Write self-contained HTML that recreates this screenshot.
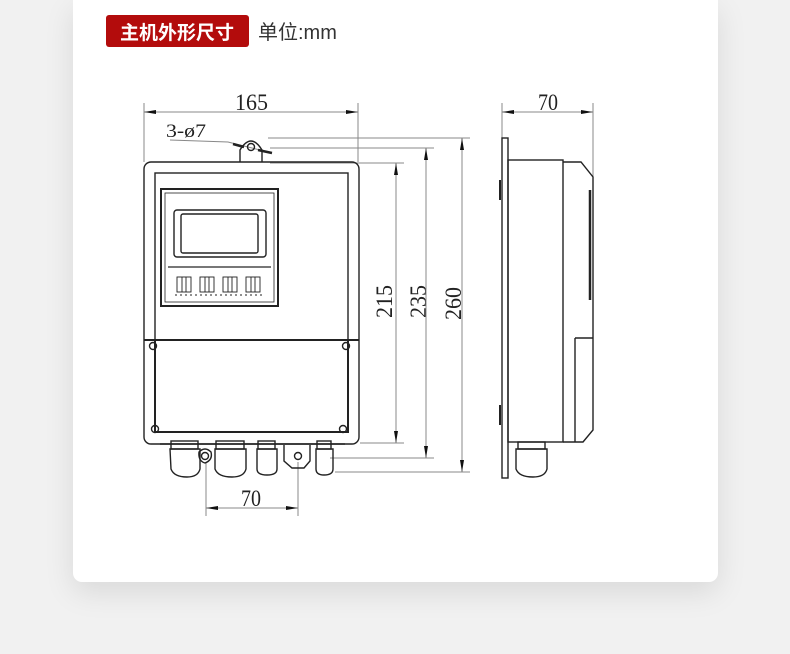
<!DOCTYPE html>
<html><head><meta charset="utf-8"><style>
html,body{margin:0;padding:0;width:790px;height:654px;overflow:hidden;background:#f1f1f1;}
.card{position:absolute;left:73px;top:0;width:645px;height:582px;background:#fff;border-radius:0 0 9px 9px;box-shadow:0 10px 30px rgba(0,0,0,0.10);}
svg{position:absolute;left:0;top:0;}
</style></head><body>
<div class="card"></div>
<svg width="790" height="654" viewBox="0 0 790 654" xmlns="http://www.w3.org/2000/svg">
<rect x="106" y="15" width="143" height="32" rx="3" fill="#b30c0c"/>
<text x="177" y="39" text-anchor="middle" fill="#fff" font-family="Liberation Sans,'Noto Sans CJK SC',sans-serif" font-size="19" font-weight="bold">主机外形尺寸</text>
<text x="258" y="39" fill="#333" font-family="Liberation Sans,'Noto Sans CJK SC',sans-serif" font-size="20">单位:mm</text>

<g font-family="Liberation Serif,serif" font-size="23" fill="#222" lengthAdjust="spacingAndGlyphs">
<text x="235" y="110" textLength="33" lengthAdjust="spacingAndGlyphs">165</text>
<text x="166" y="137" font-size="19" textLength="40" lengthAdjust="spacingAndGlyphs">3-ø7</text>
<text x="241" y="506" textLength="20" lengthAdjust="spacingAndGlyphs">70</text>
<text x="538" y="110" textLength="20" lengthAdjust="spacingAndGlyphs">70</text>
<text transform="translate(392,318) rotate(-90)" textLength="33" lengthAdjust="spacingAndGlyphs">215</text>
<text transform="translate(426,318) rotate(-90)" textLength="33" lengthAdjust="spacingAndGlyphs">235</text>
<text transform="translate(461,320) rotate(-90)" textLength="33" lengthAdjust="spacingAndGlyphs">260</text>
</g>

<g stroke="#888" stroke-width="1" fill="none">
<line x1="144" y1="103" x2="144" y2="162"/><line x1="358" y1="103" x2="358" y2="162"/>
<line x1="144" y1="112" x2="358" y2="112"/>
<line x1="502" y1="103" x2="502" y2="138"/><line x1="593" y1="103" x2="593" y2="178"/>
<line x1="502" y1="112" x2="593" y2="112"/>
<line x1="206" y1="462" x2="206" y2="516"/><line x1="298" y1="462" x2="298" y2="516"/>
<line x1="206" y1="508" x2="298" y2="508"/>
<line x1="268" y1="138" x2="470" y2="138"/><line x1="270" y1="148" x2="434" y2="148"/><line x1="270" y1="163" x2="404" y2="163"/>
<line x1="360" y1="443" x2="404" y2="443"/><line x1="330" y1="458" x2="434" y2="458"/><line x1="335" y1="472" x2="470" y2="472"/>
<line x1="396" y1="163" x2="396" y2="443"/><line x1="426" y1="148" x2="426" y2="458"/><line x1="462" y1="138" x2="462" y2="472"/>
<polyline points="170,140 228,142 268,152"/>
</g>
<g fill="#111">
<polygon points="144,112 156,110 156,114"/><polygon points="358,112 346,110 346,114"/>
<polygon points="502,112 514,110 514,114"/><polygon points="593,112 581,110 581,114"/>
<polygon points="206,508 218,506 218,510"/><polygon points="298,508 286,506 286,510"/>
<polygon points="396,163 394,175 398,175"/><polygon points="396,443 394,431 398,431"/>
<polygon points="426,148 424,160 428,160"/><polygon points="426,458 424,446 428,446"/>
<polygon points="462,138 460,150 464,150"/><polygon points="462,472 460,460 464,460"/>
</g>

<g stroke="#222" stroke-width="1.4" fill="none">
<path d="M240,162 L240,150 Q251,132 262,150 L262,162"/><circle cx="251" cy="147" r="3.5"/>
<line x1="233" y1="144" x2="244" y2="147" stroke-width="2.5"/><line x1="258" y1="150" x2="272" y2="153" stroke-width="2.5"/>
<rect x="144" y="162" width="215" height="282" rx="7"/>
<rect x="155" y="173" width="193" height="167"/>
<rect x="161" y="189" width="117" height="117" stroke-width="2"/>
<rect x="165" y="193" width="109" height="109" stroke-width="0.8"/>
<rect x="174" y="210" width="92" height="47" rx="3"/>
<rect x="181" y="214" width="77" height="39" rx="2"/>
<line x1="168" y1="267" x2="271" y2="267" stroke-width="2" stroke="#777"/>
<g stroke-width="0.9">
<rect x="177" y="277" width="14" height="15"/><line x1="182" y1="277" x2="182" y2="292"/><line x1="186" y1="277" x2="186" y2="292"/>
<rect x="200" y="277" width="14" height="15"/><line x1="205" y1="277" x2="205" y2="292"/><line x1="209" y1="277" x2="209" y2="292"/>
<rect x="223" y="277" width="14" height="15"/><line x1="228" y1="277" x2="228" y2="292"/><line x1="232" y1="277" x2="232" y2="292"/>
<rect x="246" y="277" width="14" height="15"/><line x1="251" y1="277" x2="251" y2="292"/><line x1="255" y1="277" x2="255" y2="292"/>
<line x1="175" y1="295" x2="262" y2="295" stroke-dasharray="2,3"/>
</g>
<line x1="144" y1="340" x2="359" y2="340" stroke-width="2"/>
<rect x="155" y="340" width="193" height="92" stroke-width="2"/>
<circle cx="153" cy="346" r="3.5"/><circle cx="346" cy="346" r="3.5"/><circle cx="155" cy="429" r="3.5"/><circle cx="343" cy="429" r="3.5"/>
<line x1="160" y1="444" x2="345" y2="444"/>
<rect x="171" y="441" width="27" height="8"/><path d="M170,449 h30 v20 q-2,8 -13,8 q-13,0 -16,-8z"/>
<rect x="216" y="441" width="28" height="8"/><path d="M215,449 h31 v20 q-2,8 -14,8 q-14,0 -17,-8z"/>
<rect x="258" y="441" width="17" height="8"/><path d="M257,449 h20 v20 q0,6 -10,6 q-10,0 -10,-6z"/>
<rect x="317" y="441" width="14" height="8"/><path d="M316,449 h17 v20 q0,6 -9,6 q-8,0 -8,-6z"/>
<path d="M199,452 q6,-6 12,0 q2,8 -6,11 q-7,-2 -6,-11z"/><circle cx="205" cy="456" r="3.5"/>
<path d="M284,445 v16 l8,7 h12 l6,-7 v-16"/><circle cx="298" cy="456" r="3.5"/>
<rect x="502" y="138" width="6" height="340"/>
<rect x="508" y="160" width="55" height="282"/>
<path d="M563,162 h18 l12,15 v253 l-10,12 h-20"/>
<line x1="590" y1="190" x2="590" y2="300" stroke-width="2.5"/>
<line x1="575" y1="338" x2="593" y2="338"/><line x1="575" y1="338" x2="575" y2="442"/>
<line x1="500" y1="180" x2="500" y2="200" stroke-width="2"/><line x1="500" y1="405" x2="500" y2="425" stroke-width="2"/>
<rect x="518" y="442" width="27" height="7"/><path d="M516,449 h31 v20 q-2,8 -14,8 q-14,0 -17,-8z"/>
</g>
</svg>
</body></html>
